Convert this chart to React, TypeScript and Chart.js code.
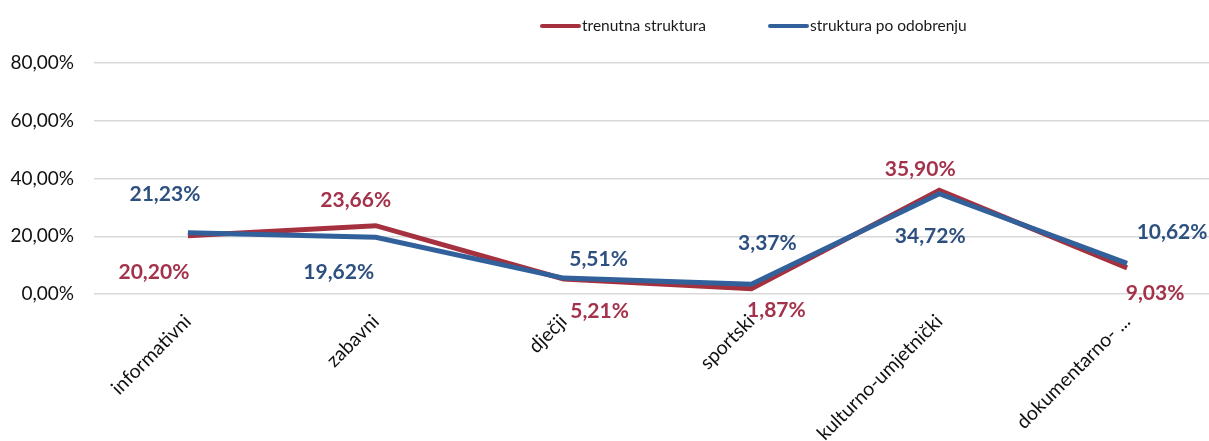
import React, { useEffect, useRef } from "react";
import { Chart, registerables } from "chart.js";

Chart.register(...registerables);

const categories = ["informativni", "zabavni", "dječji", "sportski", "kulturno-umjetnički", "dokumentarno- ..."];
const seriesNames = ["trenutna struktura", "struktura po odobrenju"];
const currentValues = [20.2, 23.66, 5.21, 1.87, 35.9, 9.03];
const approvedValues = [21.23, 19.62, 5.51, 3.37, 34.72, 10.62];
const yTicks = [0, 20, 40, 60, 80];

const RED = "#A5313F";
const BLUE = "#32609A";
const RED_TXT = "#A3324A";
const BLUE_TXT = "#2D5080";

// label offsets (dx, dy) from the point, per dataset
const labelOffsets = [
  [[-34, 37], [-20, -25], [36, 32], [25, 22], [-19, -21], [28, 25]],
  [[-23, -38], [-37, 35], [35, -19], [16, -41], [-9, 42], [45, -31]],
];

const fmt = (v: number) => v.toFixed(2).replace(".", ",") + "%";

const labelPlugin = {
  id: "valueLabels",
  afterDatasetsDraw(chart: any) {
    const ctx = chart.ctx;
    ctx.save();
    ctx.font = "bold 21px Lato";
    ctx.textAlign = "center";
    ctx.textBaseline = "middle";
    chart.data.datasets.forEach((ds: any, di: number) => {
      const meta = chart.getDatasetMeta(di);
      ctx.fillStyle = di === 0 ? RED_TXT : BLUE_TXT;
      meta.data.forEach((pt: any, i: number) => {
        const [dx, dy] = labelOffsets[di][i];
        ctx.fillText(fmt(ds.data[i]), pt.x + dx, pt.y + dy);
      });
    });
    ctx.restore();
  },
};

const legendPlugin = {
  id: "customLegend",
  afterDraw(chart: any) {
    const ctx = chart.ctx;
    ctx.save();
    ctx.font = "15.5px Lato";
    ctx.textBaseline = "middle";
    const items = [
      { x: 542, color: RED, text: seriesNames[0] },
      { x: 770, color: BLUE, text: seriesNames[1] },
    ];
    const y = 26;
    items.forEach((it) => {
      ctx.strokeStyle = it.color;
      ctx.lineWidth = 4;
      ctx.lineCap = "round";
      ctx.beginPath();
      ctx.moveTo(it.x, y);
      ctx.lineTo(it.x + 37, y);
      ctx.stroke();
      ctx.fillStyle = "#1a1a1a";
      ctx.fillText(it.text, it.x + 40, y);
    });
    ctx.restore();
  },
};

export default function App() {
  const ref = useRef<HTMLCanvasElement>(null);
  useEffect(() => {
    if (!ref.current) return;
    const chart = new Chart(ref.current, {
      type: "line",
      data: {
        labels: categories,
        datasets: [
          {
            label: seriesNames[0],
            data: currentValues,
            borderColor: RED,
            backgroundColor: RED,
            borderWidth: 5,
            pointRadius: 0,
            tension: 0,
            order: 1,
          },
          {
            label: seriesNames[1],
            data: approvedValues,
            borderColor: BLUE,
            backgroundColor: BLUE,
            borderWidth: 5,
            pointRadius: 0,
            tension: 0,
            order: 0,
          },
        ],
      },
      options: {
        responsive: false,
        animation: false,
        layout: { padding: { top: 63, right: 19, left: 0, bottom: 0 } },
        plugins: { legend: { display: false }, tooltip: { enabled: false } },
        scales: {
          x: {
            offset: true,
            grid: { display: false },
            border: { display: false },
            afterFit: (s: any) => {
              s.height = 147;
            },
            ticks: {
              maxRotation: 45,
              minRotation: 45,
              autoSkip: false,
              padding: 8,
              color: "#111",
              font: { family: "Lato", size: 19.5 },
            },
          },
          y: {
            min: 0,
            max: 80,
            afterFit: (s: any) => {
              s.width = 94;
            },
            afterBuildTicks: (s: any) => {
              s.ticks = yTicks.map((v) => ({ value: v }));
            },
            grid: { color: "#D9D9D9", lineWidth: 1.5, drawTicks: false },
            border: { display: false },
            ticks: {
              padding: 20,
              color: "#111",
              font: { family: "Lato", size: 19 },
              callback: (v: any) => fmt(Number(v)),
            },
          },
        },
      },
      plugins: [labelPlugin, legendPlugin],
    });
    return () => chart.destroy();
  }, []);
  return (
    <div style={{ position: "fixed", left: 0, top: 0, width: 1209, height: 441, overflow: "hidden", background: "#fff" }}>
      <canvas ref={ref} width={1240} height={441} style={{ width: 1240, height: 441, display: "block" }} />
    </div>
  );
}
